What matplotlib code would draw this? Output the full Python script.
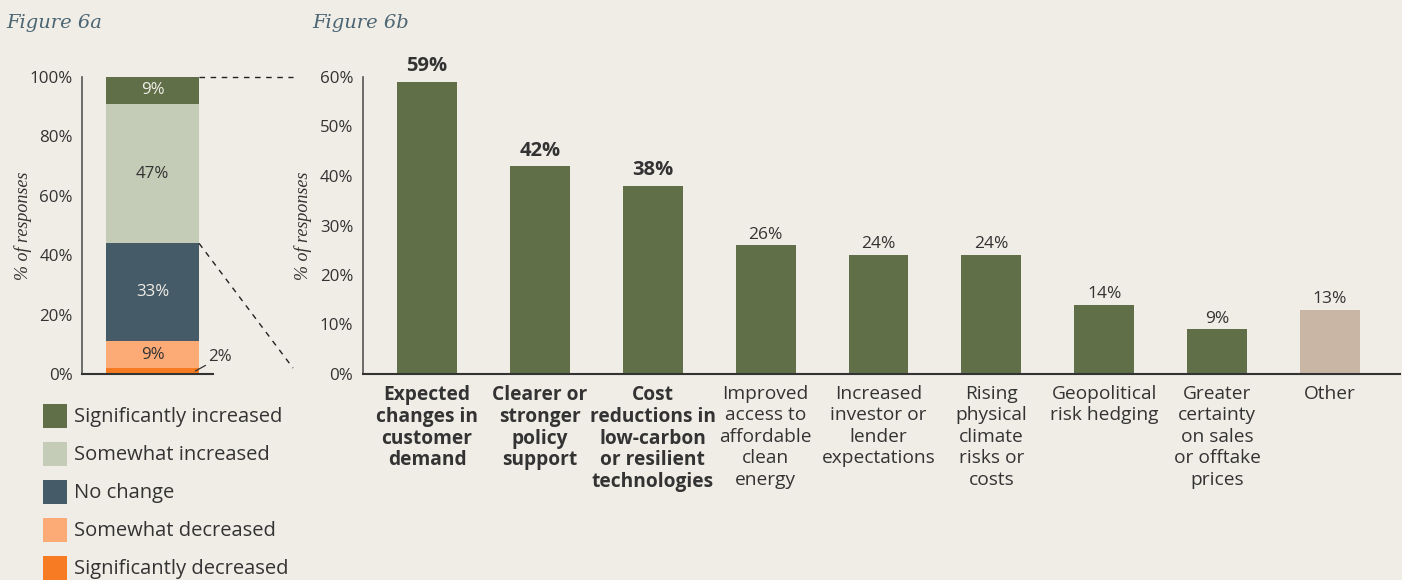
import matplotlib
matplotlib.use("Agg")
import matplotlib.pyplot as plt
from matplotlib.patches import Rectangle

# ---- data -----------------------------------------------------------------
change_labels = ["Significantly decreased", "Somewhat decreased", "No change",
                 "Somewhat increased", "Significantly increased"]
change_values = [2, 9, 33, 47, 9]
change_colors = ["#f77b22", "#fcab76", "#465b68", "#c4cbb6", "#606f48"]
change_text_colors = [None, "#333333", "#f0ede6", "#333333", "#f0ede6"]

driver_labels = [
    "Expected\nchanges in\ncustomer\ndemand",
    "Clearer or\nstronger\npolicy\nsupport",
    "Cost\nreductions in\nlow-carbon\nor resilient\ntechnologies",
    "Improved\naccess to\naffordable\nclean\nenergy",
    "Increased\ninvestor or\nlender\nexpectations",
    "Rising\nphysical\nclimate\nrisks or\ncosts",
    "Geopolitical\nrisk hedging",
    "Greater\ncertainty\non sales\nor offtake\nprices",
    "Other",
]
driver_values = [59, 42, 38, 26, 24, 24, 14, 9, 13]
driver_highlight = [True, True, True, False, False, False, False, False, False]

# ---- style ----------------------------------------------------------------
BG = "#f0ede6"
TXT = "#333333"
GREEN = "#606f48"
TAN = "#c9b6a5"
TITLE = "#4b6573"
SANS = "Open Sans"
SERIF = "Liberation Serif"

plt.rcParams["font.family"] = [SANS, "DejaVu Sans"]

W, H = 1402, 580
fig = plt.figure(figsize=(W / 100, H / 100), dpi=100, facecolor=BG)


def fx(px):
    return px / W


def fy(py):
    return 1 - py / H


# ---- Figure 6a: stacked bar ---------------------------------------------
ax1 = fig.add_axes([fx(82), fy(374), fx(213) - fx(82), fy(77) - fy(374)])
ax1.set_facecolor(BG)
bottom = 0
for val, col, tcol in zip(change_values, change_colors, change_text_colors):
    ax1.bar(0, val, width=1.0, bottom=bottom, color=col, linewidth=0)
    if tcol is not None:
        ax1.text(0, bottom + val / 2, f"{val}%", ha="center", va="center",
                 color=tcol, fontsize=12.2)
    bottom += val

# small leader label for the thinnest segment
ax1.annotate(f"{change_values[0]}%", xy=(0.46, change_values[0] / 2),
             xytext=(0.60, 5.6), textcoords="data", ha="left", va="center",
             fontsize=12.2, color=TXT, annotation_clip=False,
             arrowprops=dict(arrowstyle="-", color=TXT, lw=0.9,
                             shrinkA=0, shrinkB=0))

ax1.set_xlim(-0.758, 0.65)
ax1.set_ylim(0, 100)
ax1.set_yticks(range(0, 101, 20))
ax1.set_yticklabels([f"{v}%" for v in range(0, 101, 20)])
ax1.set_xticks([])
ax1.tick_params(axis="y", length=0, pad=6.5, labelsize=12.2, labelcolor=TXT)
for s in ("top", "right"):
    ax1.spines[s].set_visible(False)
ax1.spines["left"].set_color("#555555")
ax1.spines["bottom"].set_color("#333333")
ax1.spines["left"].set_linewidth(1.2)
ax1.spines["bottom"].set_linewidth(1.5)
ax1.set_ylabel("% of responses", family=SERIF, style="italic", fontsize=13,
               color=TXT)
ax1.yaxis.set_label_coords(-0.385, 0.5)

# dashed connectors linking the "increased" share to Figure 6b
inc_top = sum(change_values)
inc_bottom = sum(change_values[:3])
ax1.plot([0.5, 1.51], [inc_top, inc_top], ls=(0, (4, 4)), color="#222222",
         lw=1.0, clip_on=False)
ax1.plot([0.5, 1.51], [inc_bottom, 2.0], ls=(0, (4, 4)), color="#222222",
         lw=1.0, clip_on=False)

# legend: colour swatches with labels, top entry = top segment
leg_x, leg_y0, leg_step, sw = 43, 416, 38, 24
for i, (lab, col) in enumerate(zip(change_labels[::-1], change_colors[::-1])):
    cy = leg_y0 + i * leg_step
    fig.add_artist(Rectangle((fx(leg_x), fy(cy + sw / 2)), fx(sw), sw / H,
                             transform=fig.transFigure, facecolor=col,
                             edgecolor="none"))
    fig.text(fx(leg_x + sw + 7), fy(cy + 1), lab, ha="left", va="center",
             fontsize=14.5, color=TXT)

# ---- Figure 6b: drivers ----------------------------------------------------
ax2 = fig.add_axes([fx(363), fy(374), fx(1400) - fx(363), fy(77) - fy(374)])
ax2.set_facecolor(BG)
xs = list(range(len(driver_values)))
colors = [GREEN] * (len(driver_values) - 1) + [TAN]
ax2.bar(xs, driver_values, width=0.53, color=colors, linewidth=0)
for x, v, hl in zip(xs, driver_values, driver_highlight):
    ax2.annotate(f"{v}%", xy=(x, v), xytext=(0, 4 if hl else 2),
                 textcoords="offset points",
                 ha="center", va="bottom", color=TXT,
                 fontsize=14.5 if hl else 12.5,
                 fontweight="bold" if hl else "normal")

ax2.set_xlim(-0.567, 8.62)
ax2.set_ylim(0, 60)
ax2.set_yticks(range(0, 61, 10))
ax2.set_yticklabels([f"{v}%" for v in range(0, 61, 10)])
ax2.set_xticks(xs)
ax2.set_xticklabels(driver_labels)
for lab, hl in zip(ax2.get_xticklabels(), driver_highlight):
    lab.set_fontweight("bold" if hl else "normal")
    lab.set_linespacing(1.115 if hl else 1.24)
    lab.set_va("top")
ax2.tick_params(axis="y", length=0, pad=7, labelsize=12.2, labelcolor=TXT)
ax2.tick_params(axis="x", length=0, pad=8, labelsize=13.8, labelcolor=TXT)
for s in ("top", "right"):
    ax2.spines[s].set_visible(False)
ax2.spines["left"].set_color("#555555")
ax2.spines["bottom"].set_color("#333333")
ax2.spines["left"].set_linewidth(1.2)
ax2.spines["bottom"].set_linewidth(1.5)
ax2.set_ylabel("% of responses", family=SERIF, style="italic", fontsize=13,
               color=TXT)
ax2.yaxis.set_label_coords(-0.049, 0.5)

# ---- panel titles ------------------------------------------------------------
fig.text(fx(6), fy(23), "Figure 6a", family="DejaVu Serif", style="italic",
         fontsize=14, color=TITLE, ha="left", va="center")
fig.text(fx(312), fy(23), "Figure 6b", family="DejaVu Serif", style="italic",
         fontsize=14, color=TITLE, ha="left", va="center")

fig.savefig("out.png", dpi=100, facecolor=BG)
